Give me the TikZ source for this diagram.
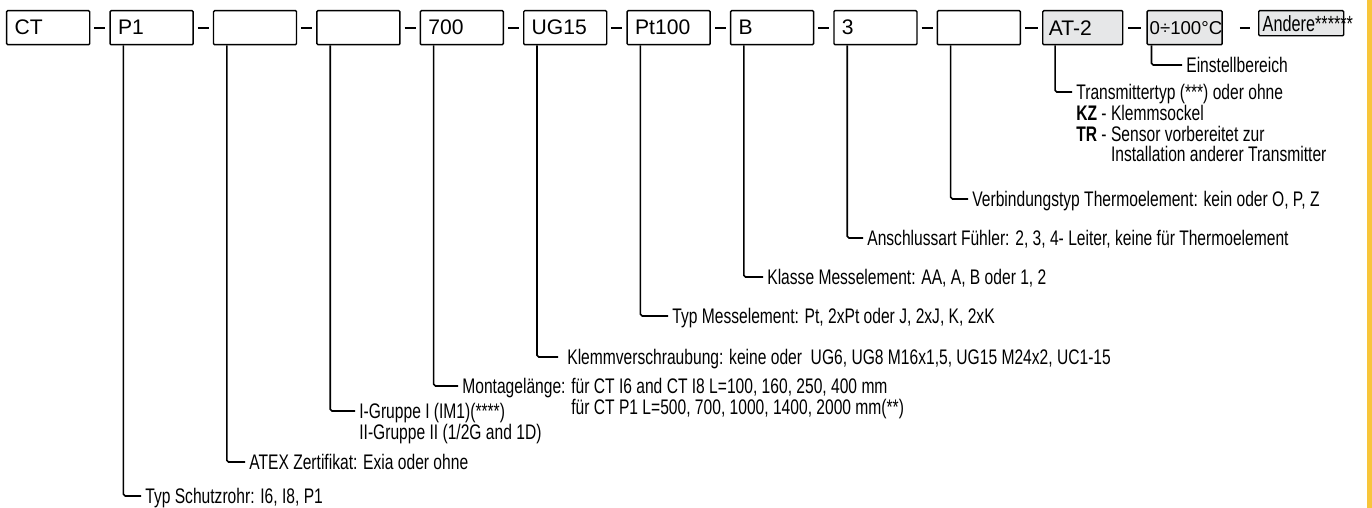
\documentclass[tikz,border=0pt]{standalone}
\usepackage{fontspec}
\setmainfont{Liberation Sans}
\newfontfamily\narrowfont[FakeStretch=0.74]{Liberation Sans}
\usepackage{xcolor}
\usepackage{tikz}
\usetikzlibrary{
  positioning,
  calc
}
\definecolor{CodeGray}{HTML}{E6E7E8}
\definecolor{EdgeYellow}{HTML}{F8C53A}
\newcommand\noteFont{\narrowfont\fontsize{12}{11.5}\selectfont}
\tikzset{
  codebox/.style={
    draw,
    line width=0.8pt,
    rounded corners=0.6pt,
    minimum height=0.68cm,
    inner xsep=0.16cm,
    inner ysep=0pt,
    text width=1.34cm,
    align=left,
    font=\fontsize{12}{13}\selectfont
  },
  optbox/.style={
    codebox,
    fill=CodeGray
  },
  joiner/.style={
    line width=1pt,
    shorten <=0.08cm,
    shorten >=0.08cm
  }
}

\begin{document}
\begin{tikzpicture}[
  node distance=0.38cm,
  lead/.style={
    line width=0.9pt,
    rounded corners=1pt
  },
  note/.style={
    anchor=base west,
    inner sep=0pt,
    xshift=0.08cm,
    yshift=-0.15cm,
    font=\noteFont
  }
]

  \useasboundingbox (0,0) rectangle (27.44,-10.16);
  \fill[EdgeYellow] (27.34,0) rectangle (27.44,-10.16);

  % order code
  \node[codebox, anchor=north west] (series) at (0.12,-0.2) {CT};
  \node[codebox, right=of series] (tube) {P1};
  \node[codebox, right=of tube] (atex) {};
  \node[codebox, right=of atex] (group) {};
  \node[codebox, right=of group] (length) {700};
  \node[codebox, right=of length] (fitting) {UG15};
  \node[codebox, right=of fitting] (element) {Pt100};
  \node[codebox, right=of element] (grade) {B};
  \node[codebox, right=of grade] (wiring) {3};
  \node[codebox, right=of wiring] (junction) {};
  \node[
    optbox,
    inner xsep=0.12cm,
    text width=1.36cm,
    right=0.42cm of junction
  ] (transmitter) {AT-2};
  \node[
    optbox,
    inner xsep=0.05cm,
    text width=1.40cm,
    font=\fontsize{10.6}{12}\selectfont,
    right=0.46cm of transmitter
  ] (setRange) {0÷100°C};
  \node[
    optbox,
    anchor=north west,
    minimum height=0.5cm,
    inner xsep=0.08cm,
    text width=1.54cm,
    font=\narrowfont\fontsize{12.5}{13}\selectfont
  ] (other) at (25.16,-0.2) {Andere******};

  \draw[joiner] (series) -- (tube);
  \draw[joiner] (tube) -- (atex);
  \draw[joiner] (atex) -- (group);
  \draw[joiner] (group) -- (length);
  \draw[joiner] (length) -- (fitting);
  \draw[joiner] (fitting) -- (element);
  \draw[joiner] (element) -- (grade);
  \draw[joiner] (grade) -- (wiring);
  \draw[joiner] (wiring) -- (junction);
  \draw[joiner] (junction) -- (transmitter);
  \draw[
    joiner,
    shorten <=0.1cm,
    shorten >=0.1cm
  ] (transmitter) -- (setRange);
  \draw[
    joiner,
    shorten <=0.34cm,
    shorten >=0.16cm
  ] (setRange.east) -- (setRange.east -| other.west);

  % line ends of the notes
  \coordinate (rangeEnd) at (23.64,-1.30);
  \coordinate (transEnd) at (21.44,-1.84);
  \coordinate (junctionEnd) at (19.36,-3.98);
  \coordinate (wiringEnd) at (17.26,-4.76);
  \coordinate (gradeEnd) at (15.26,-5.54);
  \coordinate (elementEnd) at (13.36,-6.32);
  \coordinate (fittingEnd) at (11.16,-7.14);
  \coordinate (lengthEnd) at (9.16,-7.72);
  \coordinate (groupEnd) at (7.10,-8.22);
  \coordinate (atexEnd) at (4.90,-9.24);
  \coordinate (tubeEnd) at (2.82,-9.92);

  \draw[lead] ([xshift=0.1cm]setRange.south west) |- (rangeEnd);
  \draw[lead] ([xshift=0.26cm]transmitter.south west) |- (transEnd);
  \draw[lead] ([xshift=0.28cm]junction.south west) |- (junctionEnd);
  \draw[lead] ([xshift=0.28cm]wiring.south west) |- (wiringEnd);
  \draw[lead] ([xshift=0.28cm]grade.south west) |- (gradeEnd);
  \draw[lead] ([xshift=0.28cm]element.south west) |- (elementEnd);
  \draw[lead] ([xshift=0.28cm]fitting.south west) |- (fittingEnd);
  \draw[lead] ([xshift=0.28cm]length.south west) |- (lengthEnd);
  \draw[lead] ([xshift=0.28cm]group.south west) |- (groupEnd);
  \draw[lead] ([xshift=0.28cm]atex.south west) |- (atexEnd);
  \draw[lead] ([xshift=0.28cm]tube.south west) |- (tubeEnd);

  \node[note] (rangeNote) at (rangeEnd) {Einstellbereich};
  \node[note] (transNote) at (transEnd) {%
    \fontsize{12}{10.5}\selectfont
    \begin{tabular}[t]{@{}l@{}}
      Transmittertyp (***) oder ohne\\
      \textbf{KZ} - Klemmsockel\\
      \textbf{TR} - Sensor vorbereitet zur\\
      \phantom{\textbf{TR} - }Installation anderer Transmitter
    \end{tabular}};
  \node[note] (junctionNote) at (junctionEnd) {Verbindungstyp Thermoelement: kein oder O, P, Z};
  \node[note] (wiringNote) at (wiringEnd) {Anschlussart Fühler: 2, 3, 4- Leiter, keine für Thermoelement};
  \node[note] (gradeNote) at (gradeEnd) {Klasse Messelement: AA, A, B oder 1, 2};
  \node[note] (elementNote) at (elementEnd) {Typ Messelement: Pt, 2xPt oder J, 2xJ, K, 2xK};
  \node[note, xshift=0.1cm] (fittingNote) at (fittingEnd) {Klemmverschraubung: keine oder\ \ UG6, UG8 M16x1,5, UG15 M24x2, UC1-15};
  \node[note] (lengthNote) at (lengthEnd) {%
    \begin{tabular}[t]{@{}l@{ }l@{}}
      Montagelänge: & für CT I6 and CT I8 L=100, 160, 250, 400 mm\\
      & für CT P1 L=500, 700, 1000, 1400, 2000 mm(**)
    \end{tabular}};
  \node[note] (groupNote) at (groupEnd) {%
    \begin{tabular}[t]{@{}l@{}}
      I-Gruppe I (IM1)(****)\\
      II-Gruppe II (1/2G and 1D)
    \end{tabular}};
  \node[note] (atexNote) at (atexEnd) {ATEX Zertifikat: Exia oder ohne};
  \node[note] (tubeNote) at (tubeEnd) {Typ Schutzrohr: I6, I8, P1};

\end{tikzpicture}
\end{document}
